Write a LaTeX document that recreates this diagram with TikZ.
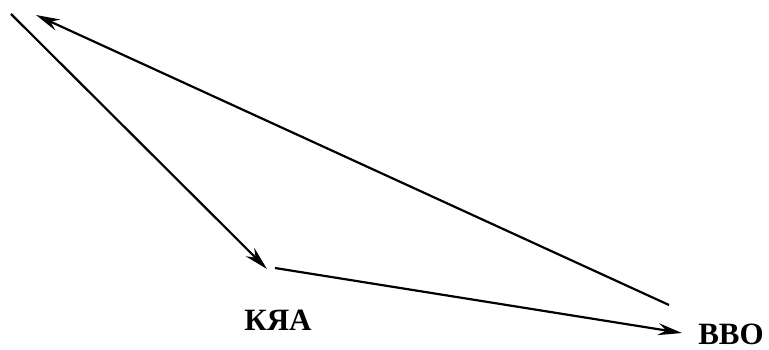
\documentclass[tikz,border=0pt]{standalone}
\usepackage{fontspec}
\setmainfont{Liberation Serif}
\usepackage{tikz}
\usetikzlibrary{arrows.meta, positioning}
\tikzstyle{arrow} = [line width=2.2pt, -{Stealth[length=24pt, width=12pt, inset=8pt]}]
\tikzstyle{label} = [font=\fontsize{31}{36}\selectfont\bfseries, inner sep=0pt]

\begin{document}
\begin{tikzpicture}[x=1pt, y=-1pt]
\useasboundingbox (0,0) rectangle (769,350);
\coordinate (a0) at (11,14);
\coordinate (a1) at (267,269);
\coordinate (b0) at (275,268);
\coordinate (b1) at (682,333);
\coordinate (c0) at (669,305);
\coordinate (c1) at (36,15);
\node (kya) [label] at (278,320) {КЯА};
\node (vvo) [label] at (731,334) {ВВО};

\draw [arrow] (a0) -- (a1);
\draw [arrow] (b0) -- (b1);
\draw [arrow] (c0) -- (c1);
\end{tikzpicture}
\end{document}
